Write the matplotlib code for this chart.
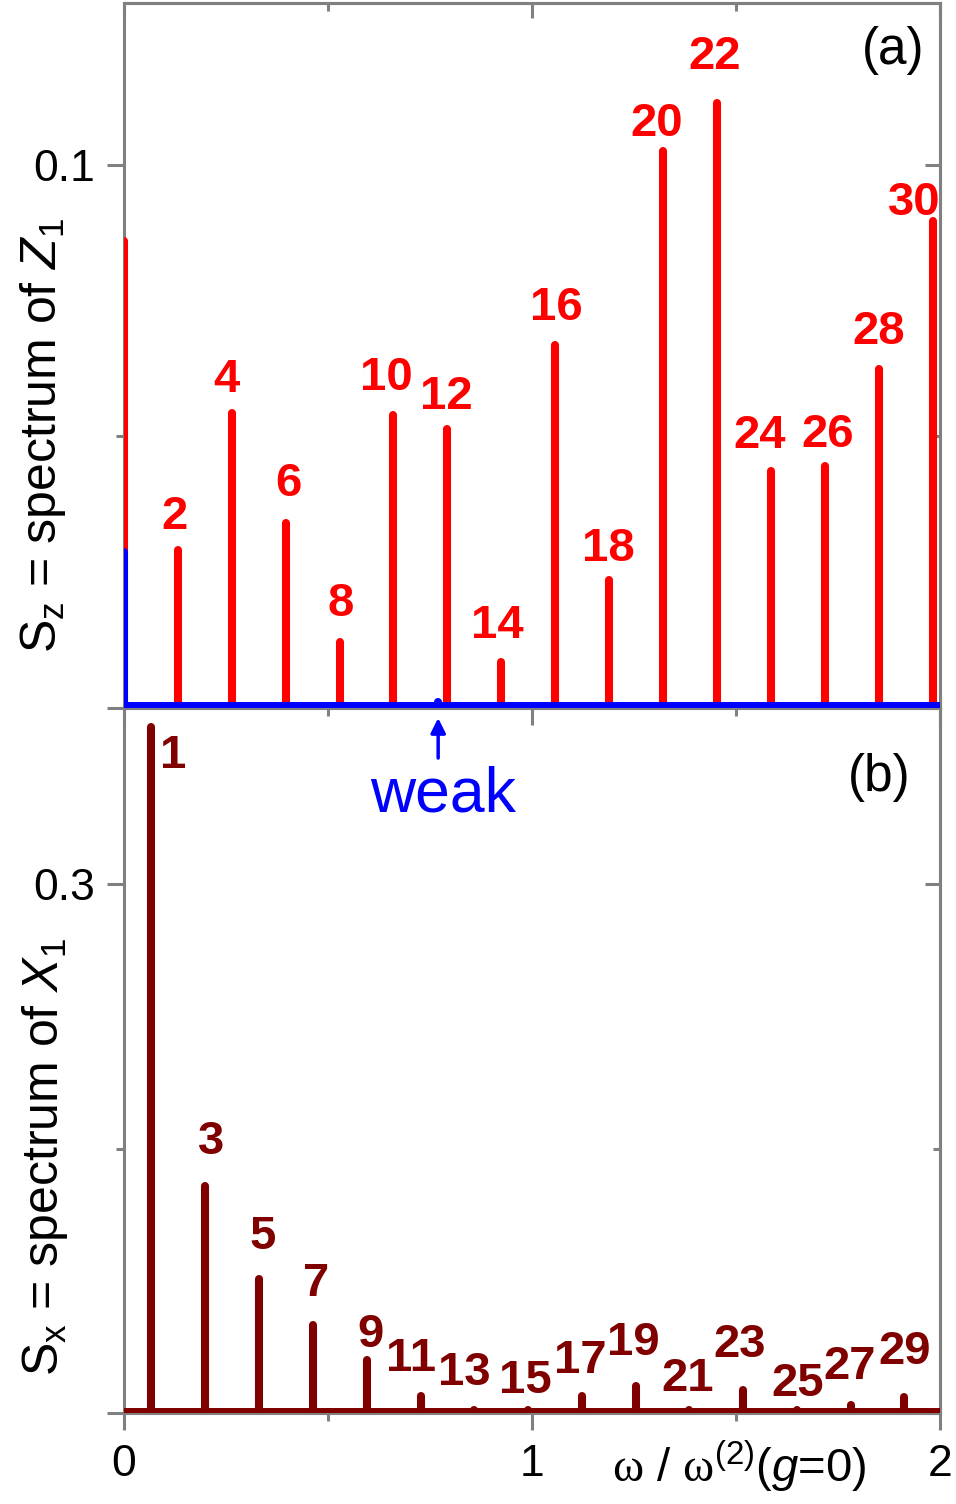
#!/usr/bin/env python3
"""Line spectra S_z (even harmonics) and S_x (odd harmonics), two stacked panels."""

import matplotlib

matplotlib.use("Agg")
import matplotlib.pyplot as plt
from matplotlib.ticker import FixedLocator


# panel (a): spectrum of Z_1, even orders
Z_ORDERS = [2, 4, 6, 8, 10, 12, 14, 16, 18, 20, 22, 24, 26, 28, 30]
Z_OMEGA = [0.132, 0.265, 0.397, 0.529, 0.659, 0.792, 0.924, 1.056,
           1.189, 1.321, 1.453, 1.586, 1.718, 1.850, 1.983]
Z_HEIGHT = [0.0290, 0.0544, 0.0340, 0.0121, 0.0539, 0.0513, 0.0084, 0.0668,
            0.0235, 0.1025, 0.1113, 0.0437, 0.0445, 0.0624, 0.0896]
Z_ZERO_HEIGHT = 0.0859          # red line sitting on omega = 0

# blue curve of panel (a): zero-frequency part, one weak line, flat floor
BLUE_OMEGA = [0.0, 0.770]
BLUE_HEIGHT = [0.0288, 0.0011]
BLUE_FLOOR = 0.00058
WEAK_OMEGA = 0.770

# panel (b): spectrum of X_1, odd orders
X_ORDERS = [1, 3, 5, 7, 9, 11, 13, 15, 17, 19, 21, 23, 25, 27, 29]
X_OMEGA = [0.066, 0.199, 0.331, 0.463, 0.596, 0.728, 0.858, 0.990,
           1.123, 1.255, 1.385, 1.517, 1.650, 1.782, 1.912]
X_HEIGHT = [0.3893, 0.1290, 0.0763, 0.0502, 0.0298, 0.0099, 0.0016, 0.0016,
            0.0094, 0.0156, 0.0016, 0.0133, 0.0016, 0.0048, 0.0088]
X_FLOOR = 0.0014

# label placement: (dx, dy) in pixels from the top of each line to the text baseline
Z_LABEL_OFFSETS = [(-3, 21), (-6, 21), (2, 27), (1, 26), (-6, 25), (-1, 20), (-4, 24),
                   (2, 25), (-1, 19), (-6, 15), (-2, 34), (-11, 23), (3, 19), (0, 25),
                   (-19, 6)]
X_LABEL_OFFSETS = [(22, -41), (6, 32), (4, 30), (3, 29), (3, 13), (-10, 25), (-10, 25),
                   (-3, 17), (-2, 23), (-3, 31), (-1, 19), (-3, 33), (0, 14), (-1, 26),
                   (1, 33)]

RED = "#ff0000"
BLUE = "#0000ff"
DARK_RED = "#800000"
GRAY = "#808080"
BAR_LW = 5.8
FLOOR_LW = 4.3

plt.rcParams["font.family"] = ["Liberation Sans", "DejaVu Sans"]
plt.rcParams["mathtext.fontset"] = "custom"
plt.rcParams["mathtext.rm"] = "Liberation Sans"
plt.rcParams["mathtext.it"] = "Liberation Sans:italic"
plt.rcParams["mathtext.bf"] = "Liberation Sans:bold"
plt.rcParams["mathtext.sf"] = "Liberation Serif"


def style_axes(ax, ymajor, ylabels, yminor, xlabels_on):
    ax.set_xlim(0.0, 2.0)
    for side in ("left", "right", "top", "bottom"):
        ax.spines[side].set_color(GRAY)
        ax.spines[side].set_linewidth(2.2)
    ax.set_yticks(ymajor, ylabels)
    ax.yaxis.set_minor_locator(FixedLocator(yminor))
    ax.set_xticks([0, 1, 2], ["0", "1", "2"])
    ax.xaxis.set_minor_locator(FixedLocator([0.5, 1.5]))
    ax.tick_params(which="both", direction="out", color=GRAY, width=2.2,
                   labelsize=32, top=False, right=False)
    ax.tick_params(which="major", length=12)
    ax.tick_params(which="minor", length=6)
    ax.tick_params(axis="y", pad=9)
    ax.tick_params(axis="x", pad=10, labelbottom=xlabels_on)

    right = ax.secondary_yaxis("right")
    right.set_yticks(ymajor)
    right.yaxis.set_minor_locator(FixedLocator(yminor))
    right.tick_params(which="both", direction="in", color=GRAY, width=2.2, labelright=False)
    right.tick_params(which="major", length=11)
    right.tick_params(which="minor", length=5)
    right.spines["right"].set_color(GRAY)
    right.spines["right"].set_linewidth(2.2)


def add_top_ticks(ax):
    top = ax.secondary_xaxis("top")
    top.set_xticks([0, 1, 2])
    top.xaxis.set_minor_locator(FixedLocator([0.5, 1.5]))
    top.tick_params(which="both", direction="in", color=GRAY, width=2.2, labeltop=False)
    top.tick_params(which="major", length=11)
    top.tick_params(which="minor", length=6)
    top.spines["top"].set_color(GRAY)
    top.spines["top"].set_linewidth(2.2)


def label_lines(ax, omegas, heights, orders, offsets, color):
    for omega, height, order, (dx, dy) in zip(omegas, heights, orders, offsets):
        ax.annotate(str(order), xy=(omega, height), xytext=(dx, dy),
                    textcoords="offset pixels", ha="center", va="baseline",
                    fontsize=34, fontweight="bold", color=color, annotation_clip=False)


def plot_panel_a(ax):
    ax.set_ylim(0.0, 0.1298)
    ax.vlines([0.0], 0.0, [Z_ZERO_HEIGHT], colors=RED, linewidth=BAR_LW,
              capstyle="round", zorder=3)
    ax.vlines(Z_OMEGA, 0.0, Z_HEIGHT, colors=RED, linewidth=BAR_LW,
              capstyle="round", zorder=3)
    ax.vlines(BLUE_OMEGA, 0.0, BLUE_HEIGHT, colors=BLUE, linewidth=BAR_LW,
              capstyle="round", zorder=4)
    ax.axhline(BLUE_FLOOR, color=BLUE, linewidth=FLOOR_LW, zorder=4)
    label_lines(ax, Z_OMEGA, Z_HEIGHT, Z_ORDERS, Z_LABEL_OFFSETS, RED)
    style_axes(ax, [0.0, 0.1], ["", "0.1"], [0.05], xlabels_on=False)
    add_top_ticks(ax)

    ax.text(-0.099, 0.387, r"$\mathrm{S}_{\mathrm{z}}$ = spectrum of $\mathit{Z}_{\mathrm{1}}$",
            transform=ax.transAxes, rotation=90, ha="center", va="center", fontsize=36)
    ax.text(0.942, 0.932, "(a)", transform=ax.transAxes, ha="center", va="center",
            fontsize=37)

    # arrow and caption for the weak blue line
    mixed = ("data", "axes fraction")
    ax.annotate("", xy=(WEAK_OMEGA, -0.0142), xycoords=mixed,
                xytext=(WEAK_OMEGA, -0.071), textcoords=mixed,
                arrowprops=dict(arrowstyle="-|>", color=BLUE, lw=2.5,
                                mutation_scale=22, shrinkA=0, shrinkB=0),
                annotation_clip=False)
    ax.annotate("weak", xy=(WEAK_OMEGA + 0.012, -0.1475), xycoords=mixed,
                ha="center", va="baseline", fontsize=45, color=BLUE,
                annotation_clip=False)


def plot_panel_b(ax):
    ax.set_ylim(0.0, 0.4)
    ax.vlines(X_OMEGA, 0.0, X_HEIGHT, colors=DARK_RED, linewidth=BAR_LW,
              capstyle="round", zorder=3)
    ax.axhline(X_FLOOR, color=DARK_RED, linewidth=FLOOR_LW, zorder=4)
    label_lines(ax, X_OMEGA, X_HEIGHT, X_ORDERS, X_LABEL_OFFSETS, DARK_RED)
    style_axes(ax, [0.0, 0.3], ["", "0.3"], [0.15], xlabels_on=True)

    ax.text(-0.097, 0.363, r"$\mathrm{S}_{\mathrm{x}}$ = spectrum of $\mathit{X}_{\mathrm{1}}$",
            transform=ax.transAxes, rotation=90, ha="center", va="center", fontsize=36)
    ax.text(0.926, 0.902, "(b)", transform=ax.transAxes, ha="center", va="center",
            fontsize=37)
    ax.text(0.754, -0.098, r"$\mathsf{ω}$ / $\mathsf{ω}^{(2)}$($\mathit{g}$=0)",
            transform=ax.transAxes, ha="center", va="baseline", fontsize=34)


def main() -> int:
    width_px, height_px = 956, 1504
    fig = plt.figure(figsize=(width_px / 100, height_px / 100), dpi=100)
    left = 124 / width_px
    axw = 816 / width_px
    axh = 705 / height_px
    ax_a = fig.add_axes([left, 1 - 708 / height_px, axw, axh])
    ax_b = fig.add_axes([left, 1 - 1413 / height_px, axw, axh])
    ax_a.set_zorder(2)

    plot_panel_a(ax_a)
    plot_panel_b(ax_b)

    fig.savefig("out.png", dpi=100)
    plt.close(fig)
    return 0


if __name__ == "__main__":
    raise SystemExit(main())
